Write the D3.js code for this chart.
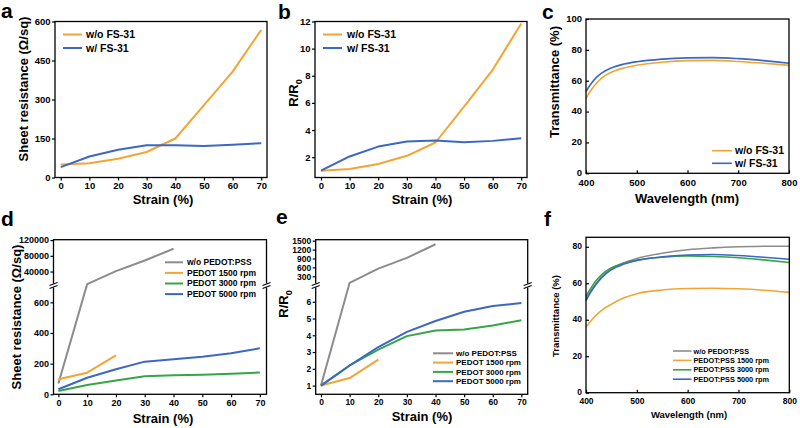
<!DOCTYPE html>
<html><head><meta charset="utf-8">
<script src="https://cdn.jsdelivr.net/npm/d3@7"></script>
<style>
body{margin:0;background:#fff}
svg{display:block;font-family:"Liberation Sans",Arial,sans-serif;font-weight:bold}
</style>
</head><body>
<svg id="chart" width="800" height="428"></svg>
<script>
// ---------- DATA ----------
const strain = [0, 10, 20, 30, 40, 50, 60, 70];
const strainTicks = [0, 10, 20, 30, 40, 50, 60, 70];

// panel a: sheet resistance (Ω/sq)
const aWithout = [50, 55, 72, 98, 150, 278, 407, 568];
const aWith = [40, 81, 107, 124, 124, 121, 126, 132];
const aYTicks = [0, 150, 300, 450, 600];

// panel b: R/R0
const bWithout = [1, 1.12, 1.5, 2.1, 3.08, 5.73, 8.44, 11.85];
const bWith = [1, 2.05, 2.78, 3.15, 3.22, 3.1, 3.2, 3.4];
const bYTicks = [2, 4, 6, 8, 10, 12];

// panel c: transmittance (%)
const wavelength = [400, 410, 420, 430, 450, 475, 500, 550, 600, 650, 700, 750, 800];
const waveTicks = [400, 500, 600, 700, 800];
const cWithout = [48.5, 54, 58, 61.5, 65.5, 68.3, 70, 72, 73, 73.2, 72.5, 71.3, 70];
const cWith = [53, 58, 62, 64.8, 68.3, 70.8, 72.3, 74, 74.8, 75, 74.3, 73, 71.3];
const cYTicks = [0, 20, 40, 60, 80, 100];

// panel d: sheet resistance with PEDOT:PSS (broken axis)
const dStrainShort = [0, 10, 20];
const dStrainGray = [0, 10, 20, 30, 40];
const dNoPedot = [70, 8000, 41000, 68000, 98000];
const d1500 = [98, 141, 254];
const d3000 = [22, 61, 90, 118, 124, 127, 134, 142];
const d5000 = [33, 108, 163, 213, 228, 245, 268, 300];
const dYTicks = [0, 200, 400, 600, 40000, 80000, 120000];

// panel e: R/R0 with PEDOT:PSS (broken axis)
const eNoPedot = [1, 80, 560, 920, 1380];
const e1500 = [1, 1.45, 2.55];
const e3000 = [1, 2.2, 3.15, 3.95, 4.28, 4.35, 4.58, 4.9];
const e5000 = [1, 2.2, 3.3, 4.2, 4.85, 5.4, 5.75, 5.92];
const eYTicks = [1, 2, 3, 4, 5, 6, 300, 600, 900, 1200, 1500];

// panel f: transmittance with PEDOT:PSS
const fNoPedot = [51.5, 56, 60, 63.2, 68, 71.3, 73.6, 76.5, 78.4, 79.4, 80, 80.3, 80.3];
const f1500 = [36, 39.5, 42.5, 45, 48.5, 52, 54.3, 56.3, 57.1, 57.3, 57, 56.2, 55];
const f3000 = [53, 57.5, 61.5, 64.5, 68.5, 71, 72.7, 74.3, 75, 74.7, 74, 72.8, 71.4];
const f5000 = [50.5, 55.5, 59.5, 62.8, 67.5, 70.5, 72.5, 74.5, 75.5, 75.8, 75.2, 74.3, 73.2];
const fYTicks = [0, 20, 40, 60, 80];

const C = {orange: "#F2A533", blue: "#3A68C4", gray: "#8C8C8C", green: "#36A546"};

// ---------- DRAW ----------
const svg = d3.select("#chart");

function panel(o) {
  const g = svg.append("g");
  const x = d3.scaleLinear().domain(o.xd).range([o.l, o.r]);
  const y = d3.scaleLinear().domain(o.yd).range(o.yr);
  const top = o.yr[o.yr.length - 1], bot = o.yr[0];
  const ts = o.inward ? -3 : 3;

  // series
  o.series.forEach(s => {
    const line = d3.line().x((d, i) => x(s.x[i])).y(d => y(d))
      .curve(o.smooth ? d3.curveMonotoneX : d3.curveLinear);
    g.append("path").datum(s.v).attr("d", line).attr("fill", "none")
      .attr("stroke", s.c).attr("stroke-width", o.lw).attr("stroke-linejoin", "round");
  });

  // axes
  const xa = g.append("g").attr("transform", `translate(0,${bot})`)
    .call(d3.axisBottom(x).tickValues(o.xt).tickSize(ts).tickPadding(o.inward ? 5.5 : 2).tickFormat(d3.format("d")));
  const ya = g.append("g").attr("transform", `translate(${o.l},0)`)
    .call(d3.axisLeft(y).tickValues(o.yt).tickSize(ts).tickPadding(o.inward ? 4 : 1.5).tickFormat(d => String(d)));
  [xa, ya].forEach(a => {
    a.select(".domain").remove();
    a.selectAll("line").attr("stroke", "#000").attr("stroke-width", 1.2);
    a.selectAll("text").attr("font-size", o.tf).attr("font-weight", "bold")
      .attr("font-family", '"Liberation Sans",Arial,sans-serif').attr("fill", "#000");
  });
  if (o.inward) ya.selectAll("text").attr("dy", "0.25em");

  // frame
  g.append("rect").attr("x", o.l).attr("y", top).attr("width", o.r - o.l).attr("height", bot - top)
    .attr("fill", "none").attr("stroke", "#000").attr("stroke-width", 1.3);

  // axis break marks
  if (o.brk !== undefined) {
    const yb = o.brk;
    [o.l, o.r].forEach(xx => {
      g.append("rect").attr("x", xx - 4).attr("y", yb - 2).attr("width", 8).attr("height", 4).attr("fill", "#fff");
      g.append("line").attr("x1", xx - 4).attr("y1", yb).attr("x2", xx + 4).attr("y2", yb - 3)
        .attr("stroke", "#000").attr("stroke-width", 1.1);
      g.append("line").attr("x1", xx - 4).attr("y1", yb + 3).attr("x2", xx + 4).attr("y2", yb)
        .attr("stroke", "#000").attr("stroke-width", 1.1);
    });
  }

  // titles
  g.append("text").attr("x", o.xtx).attr("y", o.xty).attr("text-anchor", "middle")
    .attr("font-size", o.ttf).text(o.xtitle);
  const yt = g.append("text").attr("transform", `translate(${o.ytx},${o.yty}) rotate(-90)`)
    .attr("text-anchor", "middle").attr("font-size", o.ttf);
  if (o.ysub) {
    yt.append("tspan").text("R/R");
    yt.append("tspan").attr("font-size", o.ttf * 0.7).attr("dy", 4).text("0");
  } else yt.text(o.ytitle);

  // panel letter
  g.append("text").attr("x", o.lx).attr("y", o.ly).attr("font-size", 21).text(o.letter);

  // legend
  o.series.forEach((s, i) => {
    const ly = o.leg.y + i * o.leg.dy;
    g.append("line").attr("x1", o.leg.x1).attr("x2", o.leg.x2).attr("y1", ly).attr("y2", ly)
      .attr("stroke", s.c).attr("stroke-width", o.lw);
    g.append("text").attr("x", o.leg.tx).attr("y", ly).attr("dy", "0.35em")
      .attr("font-size", o.leg.fs).text(s.name);
  });
}

panel({
  letter: "a", lx: 1, ly: 18, l: 55, r: 267, xd: [-2, 72], yd: [0, 600], yr: [177.5, 21.5],
  xt: strainTicks, yt: aYTicks, tf: 9.5, ttf: 13, lw: 2,
  xtitle: "Strain (%)", xtx: 163, xty: 204, ytitle: "Sheet resistance (Ω/sq)", ytx: 28, yty: 89,
  series: [{name: "w/o FS-31", x: strain, v: aWithout, c: C.orange},
           {name: "w/ FS-31", x: strain, v: aWith, c: C.blue}],
  leg: {x1: 63, x2: 82, tx: 86, y: 34.5, dy: 13.5, fs: 10.5}
});

panel({
  letter: "b", lx: 278, ly: 19, l: 315, r: 527, xd: [-2.1, 72], yd: [0.5, 12], yr: [177.5, 21.5],
  xt: strainTicks, yt: bYTicks, tf: 9.5, ttf: 13, lw: 2,
  xtitle: "Strain (%)", xtx: 422, xty: 204, ysub: true, ytx: 298, yty: 93,
  series: [{name: "w/o FS-31", x: strain, v: bWithout, c: C.orange},
           {name: "w/ FS-31", x: strain, v: bWith, c: C.blue}],
  leg: {x1: 323, x2: 342, tx: 347, y: 34.5, dy: 13.5, fs: 10.5}
});

panel({
  letter: "c", lx: 542, ly: 19, l: 586, r: 789, xd: [400, 800], yd: [0, 100], yr: [173.3, 19],
  xt: waveTicks, yt: cYTicks, tf: 9.5, ttf: 13, lw: 1.6, smooth: true, inward: true,
  xtitle: "Wavelength (nm)", xtx: 687, xty: 203, ytitle: "Transmittance (%)", ytx: 559, yty: 82,
  series: [{name: "w/o FS-31", x: wavelength, v: cWithout, c: C.orange},
           {name: "w/ FS-31", x: wavelength, v: cWith, c: C.blue}],
  leg: {x1: 712, x2: 732, tx: 735, y: 150.7, dy: 12.6, fs: 10.5}
});

panel({
  letter: "d", lx: 1, ly: 226, l: 53.5, r: 266.5, xd: [-1.7, 72.3],
  yd: [0, 700, 5000, 121000], yr: [394.3, 287, 285.3, 239.7], brk: 285.5,
  xt: strainTicks, yt: dYTicks, tf: 9, ttf: 13, lw: 2,
  xtitle: "Strain (%)", xtx: 163, xty: 423, ytitle: "Sheet resistance (Ω/sq)", ytx: 21, yty: 317,
  series: [{name: "w/o PEDOT:PSS", x: dStrainGray, v: dNoPedot, c: C.gray},
           {name: "PEDOT 1500 rpm", x: dStrainShort, v: d1500, c: C.orange},
           {name: "PEDOT 3000 rpm", x: strain, v: d3000, c: C.green},
           {name: "PEDOT 5000 rpm", x: strain, v: d5000, c: C.blue}],
  leg: {x1: 165, x2: 183, tx: 187, y: 262.3, dy: 10.6, fs: 8.5}
});

panel({
  letter: "e", lx: 276, ly: 224, l: 315.7, r: 527.7, xd: [-1.85, 72.2],
  yd: [0.48, 7, 1533], yr: [394.3, 285, 239.7], brk: 285.5,
  xt: strainTicks, yt: eYTicks, tf: 8.5, ttf: 13, lw: 2,
  xtitle: "Strain (%)", xtx: 422, xty: 421, ysub: true, ytx: 288, yty: 304,
  series: [{name: "w/o PEDOT:PSS", x: dStrainGray, v: eNoPedot, c: C.gray},
           {name: "PEDOT 1500 rpm", x: dStrainShort, v: e1500, c: C.orange},
           {name: "PEDOT 3000 rpm", x: strain, v: e3000, c: C.green},
           {name: "PEDOT 5000 rpm", x: strain, v: e5000, c: C.blue}],
  leg: {x1: 433, x2: 453, tx: 456, y: 353.3, dy: 9.3, fs: 8}
});

panel({
  letter: "f", lx: 544, ly: 226, l: 586, r: 789.3, xd: [400, 800], yd: [0, 85.2], yr: [392.7, 237.3],
  xt: waveTicks, yt: fYTicks, tf: 8.5, ttf: 9.5, lw: 1.6, smooth: true, inward: true,
  xtitle: "Wavelength (nm)", xtx: 689, xty: 418, ytitle: "Transmittance (%)", ytx: 559, yty: 316,
  series: [{name: "w/o PEDOT:PSS", x: wavelength, v: fNoPedot, c: C.gray},
           {name: "PEDOT:PSS 1500 rpm", x: wavelength, v: f1500, c: C.orange},
           {name: "PEDOT:PSS 3000 rpm", x: wavelength, v: f3000, c: C.green},
           {name: "PEDOT:PSS 5000 rpm", x: wavelength, v: f5000, c: C.blue}],
  leg: {x1: 673, x2: 691.5, tx: 693.5, y: 351, dy: 9.4, fs: 7.3}
});
</script>
</body></html>
